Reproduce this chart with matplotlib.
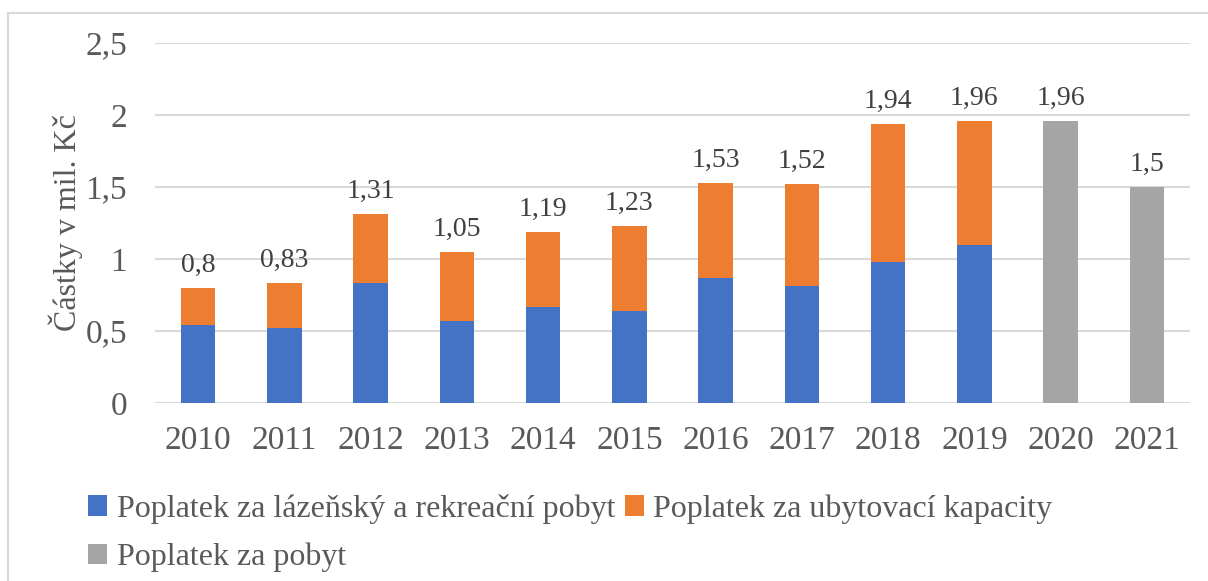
import matplotlib.pyplot as plt
from matplotlib.patches import Rectangle
import numpy as np

# data
roky = ['2010', '2011', '2012', '2013', '2014', '2015', '2016', '2017', '2018', '2019', '2020', '2021']
lazensky = [0.54, 0.52, 0.83, 0.57, 0.67, 0.64, 0.87, 0.81, 0.98, 1.10]
celkem = [0.8, 0.83, 1.31, 1.05, 1.19, 1.23, 1.53, 1.52, 1.94, 1.96]
ubytovaci = [round(c - l, 2) for c, l in zip(celkem, lazensky)]
pobyt = [1.96, 1.5]
popisky = ['0,8', '0,83', '1,31', '1,05', '1,19', '1,23', '1,53', '1,52', '1,94', '1,96', '1,96', '1,5']

plt.rcParams['font.family'] = ['Liberation Serif', 'DejaVu Serif']
sede = '#595959'

fig = plt.figure(figsize=(12.08, 5.81), dpi=100)
ax = fig.add_axes([155 / 1208, 1 - 403 / 581, 1035 / 1208, 360 / 581])

x = np.arange(len(roky))
w = 0.4
b1 = ax.bar(x[:10], lazensky, w, color='#4472C4', zorder=3, label='Poplatek za lázeňský a rekreační pobyt')
b2 = ax.bar(x[:10], ubytovaci, w, bottom=lazensky, color='#ED7D31', zorder=3, label='Poplatek za ubytovací kapacity')
b3 = ax.bar(x[10:], pobyt, w, color='#A5A5A5', zorder=3, label='Poplatek za pobyt')

vysky = celkem + pobyt
for i in range(len(roky)):
    ax.text(x[i], vysky[i] + 0.07, popisky[i], ha='center', va='bottom', fontsize=20, color='#404040')

ax.set_xlim(-0.5, len(roky) - 0.5)
ax.set_ylim(0, 2.5)
ax.set_yticks([0, 0.5, 1, 1.5, 2, 2.5])
ax.set_yticklabels(['0', '0,5', '1', '1,5', '2', '2,5'])
ax.set_xticks(x)
ax.set_xticklabels(roky)
ax.tick_params(axis='both', length=0, labelsize=24, colors=sede)
ax.tick_params(axis='x', pad=16)
ax.tick_params(axis='y', pad=20)
ax.grid(axis='y', color='#D9D9D9', linewidth=1.5, zorder=0)
for s in ax.spines.values():
    s.set_visible(False)
ax.set_ylabel('Částky v mil. Kč', fontsize=23, color=sede, labelpad=2)

# legend: row 1 blue + orange, row 2 gray
fig.legend([b1, b3, b2], [b1.get_label(), b3.get_label(), b2.get_label()],
           ncol=2, loc='upper left', bbox_to_anchor=(75 / 1208, 1 - 481 / 581),
           frameon=False, fontsize=23, labelcolor=sede,
           handlelength=0.6, handleheight=0.6, handletextpad=0.3,
           columnspacing=0.3, labelspacing=0.6, borderaxespad=0)

# outer frame
fig.patches.append(Rectangle((8 / 1208, -0.1), 1.2, 1 - 13 / 581 + 0.1, transform=fig.transFigure,
                             fill=False, edgecolor='#D9D9D9', linewidth=1.5))

fig.savefig('out.png', dpi=100)
